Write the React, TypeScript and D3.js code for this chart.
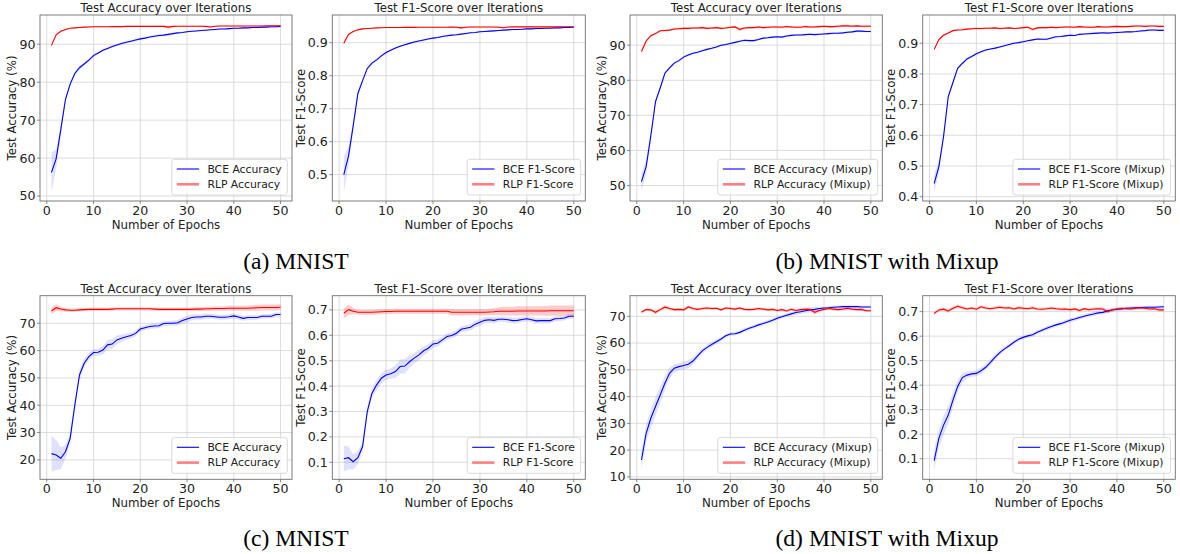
import * as d3 from 'd3'

// epochs on the x axis
const epochs = d3.range(1, 51)
const xTicks = [0, 10, 20, 30, 40, 50]

// (a) MNIST - accuracy
const aAccBce = [56.2, 59.8, 67.5, 75.5, 79.5, 82.3, 83.8, 84.8, 85.8, 87.0, 87.7, 88.4, 88.9, 89.4, 89.8, 90.2, 90.5, 90.8, 91.1, 91.4, 91.6, 91.9, 92.1, 92.3, 92.4, 92.6, 92.8, 93.0, 93.1, 93.3, 93.4, 93.5, 93.6, 93.7, 93.8, 93.9, 94.0, 94.0, 94.1, 94.2, 94.2, 94.3, 94.3, 94.4, 94.4, 94.5, 94.5, 94.6, 94.6, 94.7]
const aAccBceStd = [5.2, 2.5, 1.5, 0.8, 0.6, 0.5, 0.5, 0.4, 0.4, 0.4, 0.3, 0.3, 0.3, 0.3, 0.3, 0.3, 0.3, 0.3, 0.3, 0.3, 0.3, 0.3, 0.3, 0.3, 0.3, 0.3, 0.3, 0.2, 0.2, 0.2, 0.2, 0.2, 0.2, 0.2, 0.2, 0.2, 0.2, 0.2, 0.2, 0.2, 0.2, 0.2, 0.2, 0.2, 0.2, 0.2, 0.2, 0.2, 0.2, 0.2]
const aAccRlp = [89.7, 92.5, 93.4, 93.9, 94.2, 94.3, 94.4, 94.5, 94.55, 94.6, 94.6, 94.6, 94.6, 94.65, 94.65, 94.65, 94.7, 94.7, 94.7, 94.7, 94.7, 94.7, 94.7, 94.75, 94.7, 94.5, 94.7, 94.75, 94.75, 94.75, 94.75, 94.75, 94.75, 94.7, 94.55, 94.75, 94.8, 94.8, 94.8, 94.8, 94.8, 94.8, 94.8, 94.8, 94.8, 94.8, 94.85, 94.85, 94.85, 94.85]
const aAccRlpStd = [0.3, 0.2, 0.15, 0.15, 0.15, 0.15, 0.15, 0.15, 0.15, 0.15, 0.15, 0.15, 0.15, 0.15, 0.15, 0.15, 0.15, 0.15, 0.15, 0.15, 0.15, 0.15, 0.15, 0.2, 0.25, 0.45, 0.2, 0.15, 0.15, 0.15, 0.15, 0.15, 0.15, 0.2, 0.3, 0.15, 0.15, 0.15, 0.15, 0.15, 0.15, 0.15, 0.15, 0.15, 0.15, 0.15, 0.15, 0.15, 0.15, 0.15]

// (a) MNIST - F1
const aF1Bce = [0.5, 0.556, 0.648, 0.746, 0.785, 0.822, 0.838, 0.848, 0.86, 0.87, 0.877, 0.884, 0.889, 0.894, 0.898, 0.902, 0.905, 0.908, 0.911, 0.914, 0.916, 0.919, 0.921, 0.923, 0.924, 0.926, 0.928, 0.93, 0.931, 0.933, 0.934, 0.935, 0.936, 0.937, 0.938, 0.939, 0.94, 0.94, 0.941, 0.942, 0.942, 0.943, 0.943, 0.944, 0.944, 0.945, 0.945, 0.946, 0.946, 0.947]
const aF1BceStd = [0.055, 0.028, 0.015, 0.008, 0.006, 0.005, 0.005, 0.004, 0.004, 0.004, 0.003, 0.003, 0.003, 0.003, 0.003, 0.003, 0.003, 0.003, 0.003, 0.003, 0.003, 0.003, 0.003, 0.003, 0.003, 0.003, 0.003, 0.002, 0.002, 0.002, 0.002, 0.002, 0.002, 0.002, 0.002, 0.002, 0.002, 0.002, 0.002, 0.002, 0.002, 0.002, 0.002, 0.002, 0.002, 0.002, 0.002, 0.002, 0.002, 0.002]
const aF1Rlp = [0.898, 0.925, 0.934, 0.939, 0.942, 0.943, 0.944, 0.945, 0.9455, 0.946, 0.946, 0.946, 0.946, 0.9465, 0.9465, 0.9465, 0.947, 0.947, 0.947, 0.947, 0.947, 0.947, 0.947, 0.9475, 0.947, 0.945, 0.947, 0.9475, 0.9475, 0.9475, 0.9475, 0.9475, 0.9475, 0.947, 0.9455, 0.9475, 0.948, 0.948, 0.948, 0.948, 0.948, 0.948, 0.948, 0.948, 0.948, 0.948, 0.9485, 0.9485, 0.9485, 0.9485]
const aF1RlpStd = [0.003, 0.002, 0.0015, 0.0015, 0.0015, 0.0015, 0.0015, 0.0015, 0.0015, 0.0015, 0.0015, 0.0015, 0.0015, 0.0015, 0.0015, 0.0015, 0.0015, 0.0015, 0.0015, 0.0015, 0.0015, 0.0015, 0.0015, 0.002, 0.0025, 0.0045, 0.002, 0.0015, 0.0015, 0.0015, 0.0015, 0.0015, 0.0015, 0.002, 0.003, 0.0015, 0.0015, 0.0015, 0.0015, 0.0015, 0.0015, 0.0015, 0.0015, 0.0015, 0.0015, 0.0015, 0.0015, 0.0015, 0.0015, 0.0015]

// (b) MNIST with Mixup - accuracy
const bAccBce = [51.1, 55.4, 64.2, 73.9, 77.8, 82.0, 83.5, 84.9, 85.6, 86.6, 87.2, 87.7, 88.0, 88.4, 88.8, 89.1, 89.5, 90.0, 90.2, 90.5, 90.8, 91.1, 91.4, 91.3, 91.3, 91.6, 92.0, 92.1, 92.3, 92.4, 92.3, 92.6, 92.8, 92.9, 92.9, 93.0, 93.1, 93.0, 93.1, 93.2, 93.3, 93.4, 93.4, 93.5, 93.7, 93.8, 94.0, 94.0, 93.9, 93.9]
const bAccBceStd = [2.5, 2.0, 1.5, 1.0, 0.6, 0.5, 0.5, 0.4, 0.4, 0.4, 0.4, 0.3, 0.3, 0.3, 0.3, 0.3, 0.3, 0.3, 0.3, 0.3, 0.3, 0.3, 0.3, 0.3, 0.3, 0.3, 0.3, 0.3, 0.3, 0.3, 0.3, 0.3, 0.3, 0.3, 0.3, 0.3, 0.3, 0.3, 0.3, 0.3, 0.3, 0.3, 0.3, 0.3, 0.3, 0.3, 0.3, 0.3, 0.3, 0.3]
const bAccRlp = [88.2, 91.2, 92.7, 93.3, 94.1, 94.2, 94.3, 94.6, 94.7, 94.8, 94.8, 94.9, 94.9, 95.0, 94.8, 94.9, 95.0, 94.8, 94.9, 95.1, 95.2, 94.5, 94.9, 95.0, 95.0, 95.2, 95.0, 95.1, 95.2, 95.2, 95.1, 95.3, 95.2, 95.1, 95.1, 95.3, 95.2, 95.2, 95.3, 95.4, 95.3, 95.3, 95.4, 95.5, 95.5, 95.4, 95.5, 95.4, 95.4, 95.4]
const bAccRlpStd = [0.5, 0.4, 0.3, 0.3, 0.3, 0.3, 0.3, 0.3, 0.3, 0.3, 0.3, 0.3, 0.3, 0.3, 0.3, 0.3, 0.3, 0.3, 0.3, 0.3, 0.3, 0.5, 0.3, 0.3, 0.3, 0.3, 0.3, 0.3, 0.3, 0.3, 0.3, 0.3, 0.3, 0.3, 0.3, 0.3, 0.3, 0.3, 0.3, 0.3, 0.3, 0.3, 0.3, 0.3, 0.3, 0.3, 0.3, 0.3, 0.3, 0.3]

// (b) MNIST with Mixup - F1
const bF1Bce = [0.443, 0.498, 0.596, 0.726, 0.772, 0.818, 0.834, 0.849, 0.857, 0.866, 0.872, 0.878, 0.881, 0.884, 0.888, 0.892, 0.896, 0.9, 0.902, 0.905, 0.908, 0.911, 0.914, 0.913, 0.913, 0.917, 0.921, 0.922, 0.924, 0.926, 0.925, 0.929, 0.93, 0.931, 0.932, 0.933, 0.934, 0.933, 0.934, 0.935, 0.936, 0.937, 0.937, 0.938, 0.94, 0.941, 0.943, 0.943, 0.942, 0.942]
const bF1BceStd = [0.03, 0.02, 0.015, 0.01, 0.006, 0.005, 0.005, 0.004, 0.004, 0.004, 0.004, 0.003, 0.003, 0.003, 0.003, 0.003, 0.003, 0.003, 0.003, 0.003, 0.003, 0.003, 0.003, 0.003, 0.003, 0.003, 0.003, 0.003, 0.003, 0.003, 0.003, 0.003, 0.003, 0.003, 0.003, 0.003, 0.003, 0.003, 0.003, 0.003, 0.003, 0.003, 0.003, 0.003, 0.003, 0.003, 0.003, 0.003, 0.003, 0.003]
const bF1Rlp = [0.88, 0.912, 0.926, 0.933, 0.941, 0.943, 0.944, 0.946, 0.947, 0.948, 0.948, 0.949, 0.949, 0.95, 0.948, 0.949, 0.95, 0.948, 0.949, 0.951, 0.952, 0.945, 0.95, 0.951, 0.951, 0.952, 0.951, 0.952, 0.953, 0.953, 0.952, 0.954, 0.953, 0.952, 0.952, 0.954, 0.953, 0.953, 0.954, 0.955, 0.954, 0.954, 0.955, 0.956, 0.956, 0.955, 0.956, 0.956, 0.955, 0.955]
const bF1RlpStd = [0.005, 0.004, 0.003, 0.003, 0.003, 0.003, 0.003, 0.003, 0.003, 0.003, 0.003, 0.003, 0.003, 0.003, 0.003, 0.003, 0.003, 0.003, 0.003, 0.003, 0.003, 0.005, 0.003, 0.003, 0.003, 0.003, 0.003, 0.003, 0.003, 0.003, 0.003, 0.003, 0.003, 0.003, 0.003, 0.003, 0.003, 0.003, 0.003, 0.003, 0.003, 0.003, 0.003, 0.003, 0.003, 0.003, 0.003, 0.003, 0.003, 0.003]

// (c) MNIST - accuracy
const cAccBce = [22.3, 21.8, 20.6, 23.0, 27.9, 40.1, 51.1, 55.4, 57.8, 59.3, 59.4, 60.2, 62.1, 62.4, 63.9, 64.5, 65.1, 65.5, 66.3, 67.9, 68.4, 68.8, 69.0, 69.1, 69.9, 70.0, 70.0, 70.2, 71.0, 71.6, 72.1, 72.3, 72.3, 72.6, 72.6, 72.4, 72.2, 72.2, 72.4, 72.7, 72.3, 71.8, 72.1, 72.1, 72.1, 72.6, 72.6, 72.6, 73.2, 73.2]
const cAccBceStd = [6.5, 5.5, 4.0, 2.5, 2.0, 2.0, 1.8, 1.5, 1.3, 1.2, 1.3, 1.5, 1.8, 1.8, 1.6, 1.4, 1.2, 1.1, 1.0, 0.9, 0.9, 0.9, 0.9, 0.9, 0.9, 0.9, 0.9, 1.0, 1.1, 1.2, 1.1, 1.0, 1.0, 1.0, 0.9, 0.9, 0.9, 0.9, 0.9, 0.9, 0.9, 0.9, 0.9, 0.9, 0.8, 0.8, 0.8, 0.8, 0.8, 0.8]
const cAccRlp = [74.5, 75.7, 75.2, 74.9, 74.8, 74.8, 74.9, 75.0, 75.1, 75.1, 75.1, 75.1, 75.1, 75.2, 75.3, 75.3, 75.3, 75.3, 75.3, 75.3, 75.3, 75.3, 75.2, 75.1, 75.1, 75.1, 75.1, 75.1, 75.1, 75.1, 75.1, 75.2, 75.2, 75.3, 75.3, 75.4, 75.4, 75.4, 75.5, 75.5, 75.5, 75.5, 75.5, 75.6, 75.7, 75.8, 75.8, 75.8, 75.8, 75.9]
const cAccRlpStd = [1.2, 1.3, 0.9, 0.7, 0.6, 0.6, 0.6, 0.6, 0.6, 0.6, 0.6, 0.6, 0.6, 0.6, 0.6, 0.6, 0.6, 0.6, 0.6, 0.6, 0.6, 0.6, 0.6, 0.6, 0.6, 0.6, 0.6, 0.6, 0.6, 0.6, 0.7, 0.7, 0.8, 0.8, 0.8, 0.8, 0.8, 0.8, 0.9, 0.9, 0.9, 0.9, 0.9, 1.0, 1.1, 1.1, 1.1, 1.1, 1.1, 1.1]

// (c) MNIST - F1
const cF1Bce = [0.114, 0.118, 0.102, 0.118, 0.162, 0.3, 0.372, 0.405, 0.431, 0.444, 0.449, 0.457, 0.477, 0.479, 0.496, 0.51, 0.523, 0.539, 0.549, 0.566, 0.569, 0.582, 0.595, 0.599, 0.608, 0.624, 0.628, 0.632, 0.644, 0.651, 0.659, 0.661, 0.659, 0.663, 0.663, 0.661, 0.658, 0.659, 0.662, 0.665, 0.661, 0.657, 0.658, 0.658, 0.658, 0.665, 0.666, 0.668, 0.675, 0.675]
const cF1BceStd = [0.05, 0.045, 0.03, 0.025, 0.02, 0.02, 0.018, 0.02, 0.02, 0.02, 0.02, 0.025, 0.028, 0.028, 0.025, 0.02, 0.02, 0.018, 0.016, 0.015, 0.014, 0.013, 0.012, 0.012, 0.012, 0.012, 0.012, 0.012, 0.013, 0.013, 0.012, 0.012, 0.012, 0.011, 0.011, 0.011, 0.011, 0.011, 0.011, 0.011, 0.011, 0.011, 0.011, 0.011, 0.01, 0.01, 0.01, 0.01, 0.01, 0.01]
const cF1Rlp = [0.687, 0.701, 0.695, 0.691, 0.691, 0.691, 0.691, 0.692, 0.693, 0.694, 0.694, 0.695, 0.695, 0.695, 0.695, 0.695, 0.695, 0.695, 0.695, 0.695, 0.695, 0.695, 0.695, 0.691, 0.691, 0.691, 0.691, 0.691, 0.691, 0.691, 0.691, 0.692, 0.693, 0.695, 0.695, 0.695, 0.695, 0.696, 0.696, 0.696, 0.696, 0.696, 0.696, 0.696, 0.697, 0.697, 0.697, 0.697, 0.697, 0.697]
const cF1RlpStd = [0.02, 0.02, 0.012, 0.01, 0.01, 0.01, 0.01, 0.01, 0.01, 0.01, 0.01, 0.01, 0.01, 0.01, 0.01, 0.01, 0.01, 0.01, 0.01, 0.01, 0.01, 0.01, 0.01, 0.013, 0.013, 0.013, 0.013, 0.013, 0.013, 0.013, 0.013, 0.013, 0.014, 0.016, 0.017, 0.017, 0.017, 0.018, 0.018, 0.018, 0.018, 0.018, 0.018, 0.019, 0.02, 0.02, 0.02, 0.02, 0.02, 0.02]

// (d) MNIST with Mixup - accuracy
const dAccBce = [16.3, 26.3, 31.9, 36.3, 40.6, 45.0, 48.7, 50.6, 51.2, 51.6, 52.1, 53.3, 55.2, 57.1, 58.4, 59.5, 60.5, 61.5, 62.7, 63.4, 63.5, 64.0, 64.8, 65.5, 66.1, 66.8, 67.3, 67.9, 68.5, 69.3, 69.8, 70.4, 70.9, 71.4, 71.7, 72.1, 72.4, 72.6, 72.9, 73.1, 73.2, 73.4, 73.5, 73.6, 73.6, 73.6, 73.6, 73.5, 73.5, 73.5]
const dAccBceStd = [3.5, 3.0, 3.5, 3.5, 3.0, 2.5, 2.0, 1.5, 1.3, 1.5, 1.5, 1.3, 1.2, 1.0, 1.0, 0.9, 0.8, 0.8, 0.7, 0.7, 0.7, 0.7, 0.7, 0.7, 0.7, 0.7, 0.7, 0.7, 0.7, 0.7, 0.7, 0.7, 0.7, 0.8, 0.8, 0.9, 1.0, 0.9, 0.7, 0.6, 0.6, 0.5, 0.5, 0.5, 0.5, 0.5, 0.5, 0.5, 0.5, 0.5]
const dAccRlp = [71.6, 72.5, 72.4, 71.5, 72.5, 73.4, 72.9, 72.5, 72.6, 72.4, 73.5, 72.9, 72.6, 72.9, 73.1, 72.9, 73.0, 72.4, 73.1, 72.9, 72.7, 73.1, 72.6, 72.5, 72.6, 72.9, 72.7, 72.4, 72.6, 72.2, 72.5, 72.0, 72.6, 72.2, 72.5, 72.6, 72.6, 71.5, 72.2, 72.6, 72.9, 72.7, 72.5, 72.7, 73.0, 72.7, 72.5, 72.6, 72.1, 72.1]
const dAccRlpStd = [0.6, 0.5, 0.5, 0.7, 0.6, 0.7, 0.6, 0.5, 0.5, 0.5, 0.6, 0.5, 0.5, 0.5, 0.6, 0.5, 0.5, 0.5, 0.6, 0.5, 0.5, 0.6, 0.5, 0.5, 0.5, 0.5, 0.5, 0.5, 0.5, 0.5, 0.5, 0.5, 0.5, 0.5, 0.5, 0.5, 0.6, 0.8, 0.6, 0.5, 0.5, 0.5, 0.5, 0.5, 0.6, 0.5, 0.5, 0.5, 0.5, 0.5]

// (d) MNIST with Mixup - F1
const dF1Bce = [0.092, 0.183, 0.237, 0.278, 0.339, 0.394, 0.431, 0.441, 0.446, 0.448, 0.459, 0.473, 0.493, 0.514, 0.533, 0.548, 0.561, 0.575, 0.587, 0.595, 0.601, 0.606, 0.616, 0.624, 0.632, 0.639, 0.646, 0.651, 0.658, 0.665, 0.67, 0.676, 0.681, 0.686, 0.69, 0.695, 0.697, 0.703, 0.707, 0.71, 0.711, 0.714, 0.715, 0.716, 0.716, 0.718, 0.718, 0.718, 0.719, 0.72]
const dF1BceStd = [0.04, 0.035, 0.04, 0.035, 0.03, 0.025, 0.02, 0.015, 0.012, 0.013, 0.013, 0.012, 0.012, 0.01, 0.01, 0.009, 0.009, 0.008, 0.008, 0.008, 0.008, 0.008, 0.008, 0.008, 0.008, 0.008, 0.008, 0.008, 0.008, 0.008, 0.008, 0.008, 0.008, 0.008, 0.008, 0.008, 0.008, 0.008, 0.007, 0.007, 0.007, 0.007, 0.007, 0.006, 0.006, 0.006, 0.006, 0.006, 0.006, 0.006]
const dF1Rlp = [0.693, 0.707, 0.71, 0.703, 0.714, 0.722, 0.716, 0.711, 0.715, 0.71, 0.72, 0.715, 0.712, 0.715, 0.718, 0.715, 0.716, 0.711, 0.716, 0.714, 0.712, 0.716, 0.711, 0.71, 0.712, 0.715, 0.712, 0.71, 0.711, 0.708, 0.711, 0.705, 0.712, 0.708, 0.711, 0.712, 0.711, 0.7, 0.708, 0.711, 0.714, 0.712, 0.711, 0.714, 0.716, 0.714, 0.711, 0.712, 0.707, 0.707]
const dF1RlpStd = [0.007, 0.006, 0.006, 0.008, 0.007, 0.008, 0.007, 0.006, 0.006, 0.006, 0.007, 0.006, 0.006, 0.006, 0.007, 0.006, 0.006, 0.006, 0.007, 0.006, 0.006, 0.007, 0.006, 0.006, 0.006, 0.006, 0.006, 0.006, 0.006, 0.006, 0.006, 0.006, 0.006, 0.006, 0.006, 0.006, 0.007, 0.009, 0.007, 0.006, 0.006, 0.006, 0.006, 0.006, 0.007, 0.006, 0.006, 0.006, 0.006, 0.006]

const captions = ['(a) MNIST', '(b) MNIST with Mixup', '(c) MNIST', '(d) MNIST with Mixup']

const FONT = 'DejaVu Sans, sans-serif'
const TICK_SIZE = 12.6
const LABEL_SIZE = 11.8
const TITLE_SIZE = 11.8
const LEGEND_SIZE = 10.8

const accTitle = 'Test Accuracy over Iterations'
const f1Title = 'Test F1-Score over Iterations'

// axes boxes in pixels
const cols = [[40, 292], [332.3, 585.3], [630, 882.3], [922.7, 1175.3]]
const rows = [[15, 201], [295.7, 479.3]]

const panels = [
  { col: 0, row: 0, title: accTitle, ylabel: 'Test Accuracy (%)', yDomain: [48.7, 97.7], yTicks: [50, 60, 70, 80, 90], fmt: d3.format('d'),
    bce: aAccBce, bceStd: aAccBceStd, rlp: aAccRlp, rlpStd: aAccRlpStd, labels: ['BCE Accuracy', 'RLP Accuracy'] },
  { col: 1, row: 0, title: f1Title, ylabel: 'Test F1-Score', yDomain: [0.42, 0.984], yTicks: [0.5, 0.6, 0.7, 0.8, 0.9], fmt: d3.format('.1f'),
    bce: aF1Bce, bceStd: aF1BceStd, rlp: aF1Rlp, rlpStd: aF1RlpStd, labels: ['BCE F1-Score', 'RLP F1-Score'] },
  { col: 2, row: 0, title: accTitle, ylabel: 'Test Accuracy (%)', yDomain: [45.6, 98.6], yTicks: [50, 60, 70, 80, 90], fmt: d3.format('d'),
    bce: bAccBce, bceStd: bAccBceStd, rlp: bAccRlp, rlpStd: bAccRlpStd, labels: ['BCE Accuracy (Mixup)', 'RLP Accuracy (Mixup)'] },
  { col: 3, row: 0, title: f1Title, ylabel: 'Test F1-Score', yDomain: [0.386, 0.992], yTicks: [0.4, 0.5, 0.6, 0.7, 0.8, 0.9], fmt: d3.format('.1f'),
    bce: bF1Bce, bceStd: bF1BceStd, rlp: bF1Rlp, rlpStd: bF1RlpStd, labels: ['BCE F1-Score (Mixup)', 'RLP F1-Score (Mixup)'] },
  { col: 0, row: 1, title: accTitle, ylabel: 'Test Accuracy (%)', yDomain: [12.9, 80.1], yTicks: [20, 30, 40, 50, 60, 70], fmt: d3.format('d'),
    bce: cAccBce, bceStd: cAccBceStd, rlp: cAccRlp, rlpStd: cAccRlpStd, labels: ['BCE Accuracy', 'RLP Accuracy'] },
  { col: 1, row: 1, title: f1Title, ylabel: 'Test F1-Score', yDomain: [0.033, 0.756], yTicks: [0.1, 0.2, 0.3, 0.4, 0.5, 0.6, 0.7], fmt: d3.format('.1f'),
    bce: cF1Bce, bceStd: cF1BceStd, rlp: cF1Rlp, rlpStd: cF1RlpStd, labels: ['BCE F1-Score', 'RLP F1-Score'] },
  { col: 2, row: 1, title: accTitle, ylabel: 'Test Accuracy (%)', yDomain: [9.1, 77.7], yTicks: [10, 20, 30, 40, 50, 60, 70], fmt: d3.format('d'),
    bce: dAccBce, bceStd: dAccBceStd, rlp: dAccRlp, rlpStd: dAccRlpStd, labels: ['BCE Accuracy (Mixup)', 'RLP Accuracy (Mixup)'] },
  { col: 3, row: 1, title: f1Title, ylabel: 'Test F1-Score', yDomain: [0.016, 0.765], yTicks: [0.1, 0.2, 0.3, 0.4, 0.5, 0.6, 0.7], fmt: d3.format('.1f'),
    bce: dF1Bce, bceStd: dF1BceStd, rlp: dF1Rlp, rlpStd: dF1RlpStd, labels: ['BCE F1-Score (Mixup)', 'RLP F1-Score (Mixup)'] }
]

let ctx: CanvasRenderingContext2D | null = null
function textWidth(text: string, size: number) {
  if (!ctx) ctx = document.createElement('canvas').getContext('2d')
  if (!ctx) return text.length * size * 0.6
  ctx.font = `${size}px "DejaVu Sans"`
  return ctx.measureText(text).width
}

function Panel({ p, idx }: { p: any, idx: number }) {
  const [x0, x1] = cols[p.col]
  const [y0, y1] = rows[p.row]
  const x = d3.scaleLinear([-1.45, 52.45], [x0, x1])
  const y = d3.scaleLinear(p.yDomain, [y1, y0])

  const line = d3.line<number>().x((_, i) => x(epochs[i])).y(d => y(d))
  const band = (mean: number[], std: number[]) =>
    d3.area<number>()
      .x((_, i) => x(epochs[i]))
      .y0((d, i) => y(d - std[i]))
      .y1((d, i) => y(d + std[i]))(mean)

  const maxTickW = Math.max(...p.yTicks.map((t: number) => textWidth(p.fmt(t), TICK_SIZE)))

  // legend box
  const legW = 5 + 22.3 + 8.3 + Math.max(...p.labels.map((l: string) => textWidth(l, LEGEND_SIZE))) + 5.6
  const legH = 35.7
  const legX = x1 - 4.7 - legW
  const legY = y1 - 6 - legH
  const clipId = `clip-${idx}`

  return (
    <g>
      <defs>
        <clipPath id={clipId}>
          <rect x={x0} y={y0} width={x1 - x0} height={y1 - y0} />
        </clipPath>
      </defs>
      <rect x={x0} y={y0} width={x1 - x0} height={y1 - y0} fill="white" />

      {/* grid */}
      {xTicks.map(t => (
        <line key={'gx' + t} x1={x(t)} x2={x(t)} y1={y0} y2={y1} stroke="#d3d3d3" strokeWidth={0.8} />
      ))}
      {p.yTicks.map((t: number) => (
        <line key={'gy' + t} x1={x0} x2={x1} y1={y(t)} y2={y(t)} stroke="#d3d3d3" strokeWidth={0.8} />
      ))}

      {/* bands and lines */}
      <g clipPath={`url(#${clipId})`}>
        <path d={band(p.bce, p.bceStd) || ''} fill="blue" fillOpacity={0.12} />
        <path d={band(p.rlp, p.rlpStd) || ''} fill="red" fillOpacity={0.2} />
        <path d={line(p.bce) || ''} fill="none" stroke="blue" strokeWidth={1.1} />
        <path d={line(p.rlp) || ''} fill="none" stroke="red" strokeWidth={1.1} />
      </g>

      {/* spines */}
      <rect x={x0} y={y0} width={x1 - x0} height={y1 - y0} fill="none" stroke="#6e6e6e" strokeWidth={0.9} />

      {/* x axis */}
      {xTicks.map(t => (
        <g key={'xt' + t}>
          <line x1={x(t)} x2={x(t)} y1={y1} y2={y1 + 3} stroke="#6e6e6e" strokeWidth={0.8} />
          <text x={x(t)} y={y1 + 13.5} textAnchor="middle" fontSize={TICK_SIZE} fontFamily={FONT} fill="#222">{t}</text>
        </g>
      ))}
      <text x={(x0 + x1) / 2} y={y1 + 27.8} textAnchor="middle" fontSize={LABEL_SIZE} fontFamily={FONT} fill="#222">Number of Epochs</text>

      {/* y axis */}
      {p.yTicks.map((t: number) => (
        <g key={'yt' + t}>
          <line x1={x0 - 3} x2={x0} y1={y(t)} y2={y(t)} stroke="#6e6e6e" strokeWidth={0.8} />
          <text x={x0 - 4.5} y={y(t)} dy="0.35em" textAnchor="end" fontSize={TICK_SIZE} fontFamily={FONT} fill="#222">{p.fmt(t)}</text>
        </g>
      ))}
      <text transform={`translate(${x0 - maxTickW - 7.5},${(y0 + y1) / 2}) rotate(-90)`} textAnchor="middle"
        fontSize={LABEL_SIZE} fontFamily={FONT} fill="#222">{p.ylabel}</text>

      {/* title */}
      <text x={(x0 + x1) / 2} y={y0 - 3} textAnchor="middle" fontSize={TITLE_SIZE} fontFamily={FONT} fill="#222">{p.title}</text>

      {/* legend */}
      <rect x={legX} y={legY} width={legW} height={legH} rx={2.5} fill="white" fillOpacity={0.8} stroke="#d0d0d0" strokeWidth={0.8} />
      <line x1={legX + 5} x2={legX + 27.3} y1={legY + 9.7} y2={legY + 9.7} stroke="blue" strokeWidth={1.1} />
      <line x1={legX + 5} x2={legX + 27.3} y1={legY + 25} y2={legY + 25} stroke="#ff8080" strokeWidth={2.6} />
      <text x={legX + 35.6} y={legY + 9.7} dy="0.35em" fontSize={LEGEND_SIZE} fontFamily={FONT} fill="#222">{p.labels[0]}</text>
      <text x={legX + 35.6} y={legY + 25} dy="0.35em" fontSize={LEGEND_SIZE} fontFamily={FONT} fill="#222">{p.labels[1]}</text>
    </g>
  )
}

export default function App() {
  const captionX = [296, 887]
  const captionY = [268.5, 545.5]
  return (
    <div style={{ position: 'absolute', left: 0, top: 0 }}>
      <svg width={1180} height={554} style={{ display: 'block', background: 'white' }}>
        {panels.map((p, i) => <Panel key={i} p={p} idx={i} />)}
        {captions.map((c, i) => (
          <text key={c + i} x={captionX[i % 2]} y={captionY[Math.floor(i / 2)]} textAnchor="middle"
            fontSize={23.6} fontFamily="Liberation Serif, Times New Roman, serif" fill="#000">{c}</text>
        ))}
      </svg>
    </div>
  )
}
